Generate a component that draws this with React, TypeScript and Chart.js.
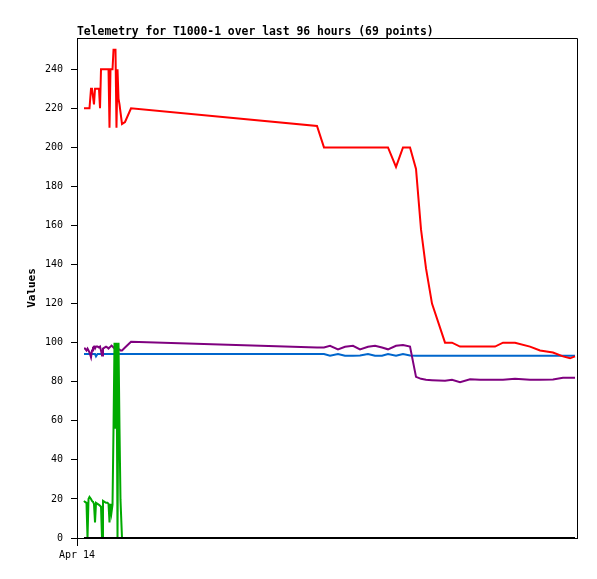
import { useEffect, useRef } from "react";
import { Chart, registerables } from "chart.js";

Chart.register(...registerables);

const TITLE = "Telemetry for T1000-1 over last 96 hours (69 points)";
const Y_TITLE = "Values";

// hours since the start of Apr 14
const hours = [
  1.34, 1.54, 1.82, 2.02, 2.21, 2.4, 2.69, 2.88, 3.07, 3.26,
  3.46, 3.65, 3.94, 4.22, 4.42, 4.61, 4.8, 4.99, 5.28, 5.57,
  5.86, 6.05, 6.24, 6.43, 6.62, 6.82, 7.01, 7.2, 7.39, 7.58,
  7.78, 7.97, 8.16, 8.35, 8.64, 9.22, 10.37,
  46.08, 47.42, 48.58, 50.11, 51.46, 52.99, 54.34, 55.87, 57.22, 58.56,
  59.71, 61.25, 62.59, 63.94, 65.09, 66.05, 67.01, 68.16, 70.66, 72.0,
  73.54, 75.46, 77.38, 80.26, 81.79, 84.1, 86.98, 88.9, 91.39, 93.31,
  94.66, 95.62,
];

const redSeries = [
  220, 220, 220, 220, 220, 220, 230, 230, 230, 222,
  230, 230, 230, 230, 220, 240, 240, 240, 240, 240,
  240, 240, 210, 240, 240, 240, 250, 250, 250, 210,
  240, 225, 222, 218, 212, 213, 220,
  211, 200, 200, 200, 200, 200, 200, 200, 200, 200,
  200, 190, 200, 200, 189, 158, 138, 120, 100, 100,
  98, 98, 98, 98, 100, 100, 98, 96, 95, 93,
  92, 93,
];

const purpleSeries = [
  97, 97, 96, 97, 96, 95, 92.5, 96, 97.5, 98,
  97, 98, 98, 97.5, 98, 96, 93.5, 97, 97.5, 98,
  97.5, 97, 97.5, 98, 98.5, 98, 97.5, 97, 97, 97,
  97, 96.5, 96.5, 96, 96, 97.5, 100.5,
  97.5, 97.5, 98.4, 96.6, 97.9, 98.4, 96.6, 97.9, 98.4, 97.5,
  96.6, 98.4, 98.8, 98, 82.5, 81.5, 81, 80.8, 80.5, 81,
  79.8, 81.3, 81, 81, 81, 81.5, 81, 81, 81.2, 82,
  82, 82,
];

const blueSeries = [
  94.2, 94.2, 94.2, 94.2, 94.2, 94.2, 94.2, 94.2, 94.2, 94.2,
  94.2, 93, 94.2, 94.2, 94.2, 94.2, 94.2, 94.2, 94.2, 94.2,
  94.2, 94.2, 94.2, 94.2, 94.2, 94.2, 94.2, 94.2, 94.2, 92.8,
  94.2, 94.2, 94.2, 94.2, 94.2, 94.2, 94.2,
  94.2, 94.2, 93.3, 94.2, 93.3, 93.3, 93.5, 94.2, 93.3, 93.3,
  94.2, 93.3, 94.2, 93.5, 93.3, 93.3, 93.3, 93.3, 93.3, 93.3,
  93.3, 93.3, 93.3, 93.3, 93.3, 93.3, 93.3, 93.3, 93.3, 93.3,
  93.3, 93.3,
];

const greenSeries = [
  19, 18.5, 18, 0, 20, 21, 20, 19, 18.5, 17.5,
  8, 18, 17.5, 17, 16.5, 16, 0, 19, 18.5, 18,
  18, 17.5, 8, 17.5, 13, 17, 56, 100, 56, 100,
  0, 100, 56, 19.5, 0, 0, 0,
  0, 0, 0, 0, 0, 0, 0, 0, 0, 0,
  0, 0, 0, 0, 0, 0, 0, 0, 0, 0,
  0, 0, 0, 0, 0, 0, 0, 0, 0, 0,
  0, 0,
];

const blackSeries = [
  0, 0, 0, 0, 0, 0, 0, 0, 0, 0,
  0, 0, 0, 0, 0, 0, 0, 0, 0, 0,
  0, 0, 0, 0, 0, 0, 0, 0, 0, 0,
  0, 0, 0, 0, 0, 0, 0,
  0, 0, 0, 0, 0, 0, 0, 0, 0, 0,
  0, 0, 0, 0, 0, 0, 0, 0, 0, 0,
  0, 0, 0, 0, 0, 0, 0, 0, 0, 0,
  0, 0,
];

const yTicks = [0, 20, 40, 60, 80, 100, 120, 140, 160, 180, 200, 220, 240];
const xTickHours = [0];
const xTickLabels = ["Apr 14"];

const MONO = "'DejaVu Sans Mono', 'Liberation Mono', monospace";

const framePlugin = {
  id: "frame",
  afterDatasetsDraw(chart: any) {
    const { ctx, chartArea } = chart;
    ctx.save();
    ctx.strokeStyle = "#000";
    ctx.lineWidth = 1;
    ctx.beginPath();
    ctx.moveTo(Math.round(chartArea.left) + 0.5, Math.round(chartArea.top) + 0.5);
    ctx.lineTo(Math.round(chartArea.right) + 0.5, Math.round(chartArea.top) + 0.5);
    ctx.lineTo(Math.round(chartArea.right) + 0.5, Math.round(chartArea.bottom) + 0.5);
    ctx.stroke();
    ctx.restore();
  },
};

export default function App() {
  const ref = useRef<HTMLCanvasElement>(null);

  useEffect(() => {
    const toPts = (vals: number[]) => hours.map((h, i) => ({ x: h, y: vals[i] }));
    const line = (data: number[], color: string, extra: any = {}) => ({
      data: toPts(data),
      borderColor: color,
      backgroundColor: color,
      borderWidth: 2,
      pointRadius: 0,
      tension: 0,
      fill: false,
      ...extra,
    });

    const chart = new Chart(ref.current!, {
      type: "line",
      data: {
        datasets: [
          line(blackSeries, "#000000", { clip: false }),
          line(greenSeries, "#00aa00"),
          line(redSeries, "#ff0000"),
          line(purpleSeries, "#7f007f"),
          line(blueSeries, "#0066cc"),
        ],
      },
      options: {
        responsive: false,
        animation: false,
        devicePixelRatio: 1,
        layout: { padding: { top: 0, right: 20, left: 0, bottom: 0 } },
        plugins: {
          legend: { display: false },
          tooltip: { enabled: false },
          title: {
            display: true,
            text: TITLE,
            align: "start",
            fullSize: false,
            color: "#000",
            font: { family: MONO, size: 11.4, weight: "bold", lineHeight: 1 },
            padding: { top: 26, bottom: 0.6 },
          },
        },
        scales: {
          x: {
            type: "linear",
            min: 0,
            max: 96,
            afterBuildTicks: (s: any) => {
              s.ticks = xTickHours.map((v) => ({ value: v }));
            },
            afterFit: (s: any) => {
              s.height = 41;
            },
            ticks: {
              callback: (_v: any, i: number) => xTickLabels[i],
              font: { family: MONO, size: 10 },
              color: "#000",
              padding: 3,
              maxRotation: 0,
              autoSkip: false,
            },
            grid: {
              drawOnChartArea: false,
              drawTicks: true,
              tickLength: 8,
              tickColor: "#000",
              color: "#000",
            },
            border: { display: true, color: "#000", width: 1 },
          },
          y: {
            type: "linear",
            min: 0,
            max: 256,
            afterBuildTicks: (s: any) => {
              s.ticks = yTicks.map((v) => ({ value: v }));
            },
            afterFit: (s: any) => {
              s.width = 77;
            },
            ticks: {
              font: { family: MONO, size: 10 },
              color: "#000",
              padding: 8,
              autoSkip: false,
            },
            grid: {
              drawOnChartArea: false,
              drawTicks: true,
              tickLength: 6,
              tickColor: "#000",
              color: "#000",
            },
            border: { display: true, color: "#000", width: 1 },
            title: {
              display: true,
              text: Y_TITLE,
              color: "#000",
              font: { family: MONO, size: 11, weight: "bold", lineHeight: 1.2 },
              padding: { top: 26, bottom: 0 },
            },
          },
        },
      } as any,
      plugins: [framePlugin],
    });
    return () => chart.destroy();
  }, []);

  return (
    <div style={{ position: "fixed", left: 0, top: 0, width: 597, height: 579, background: "#fff" }}>
      <canvas ref={ref} width={597} height={579} style={{ display: "block", width: 597, height: 579 }} />
    </div>
  );
}
